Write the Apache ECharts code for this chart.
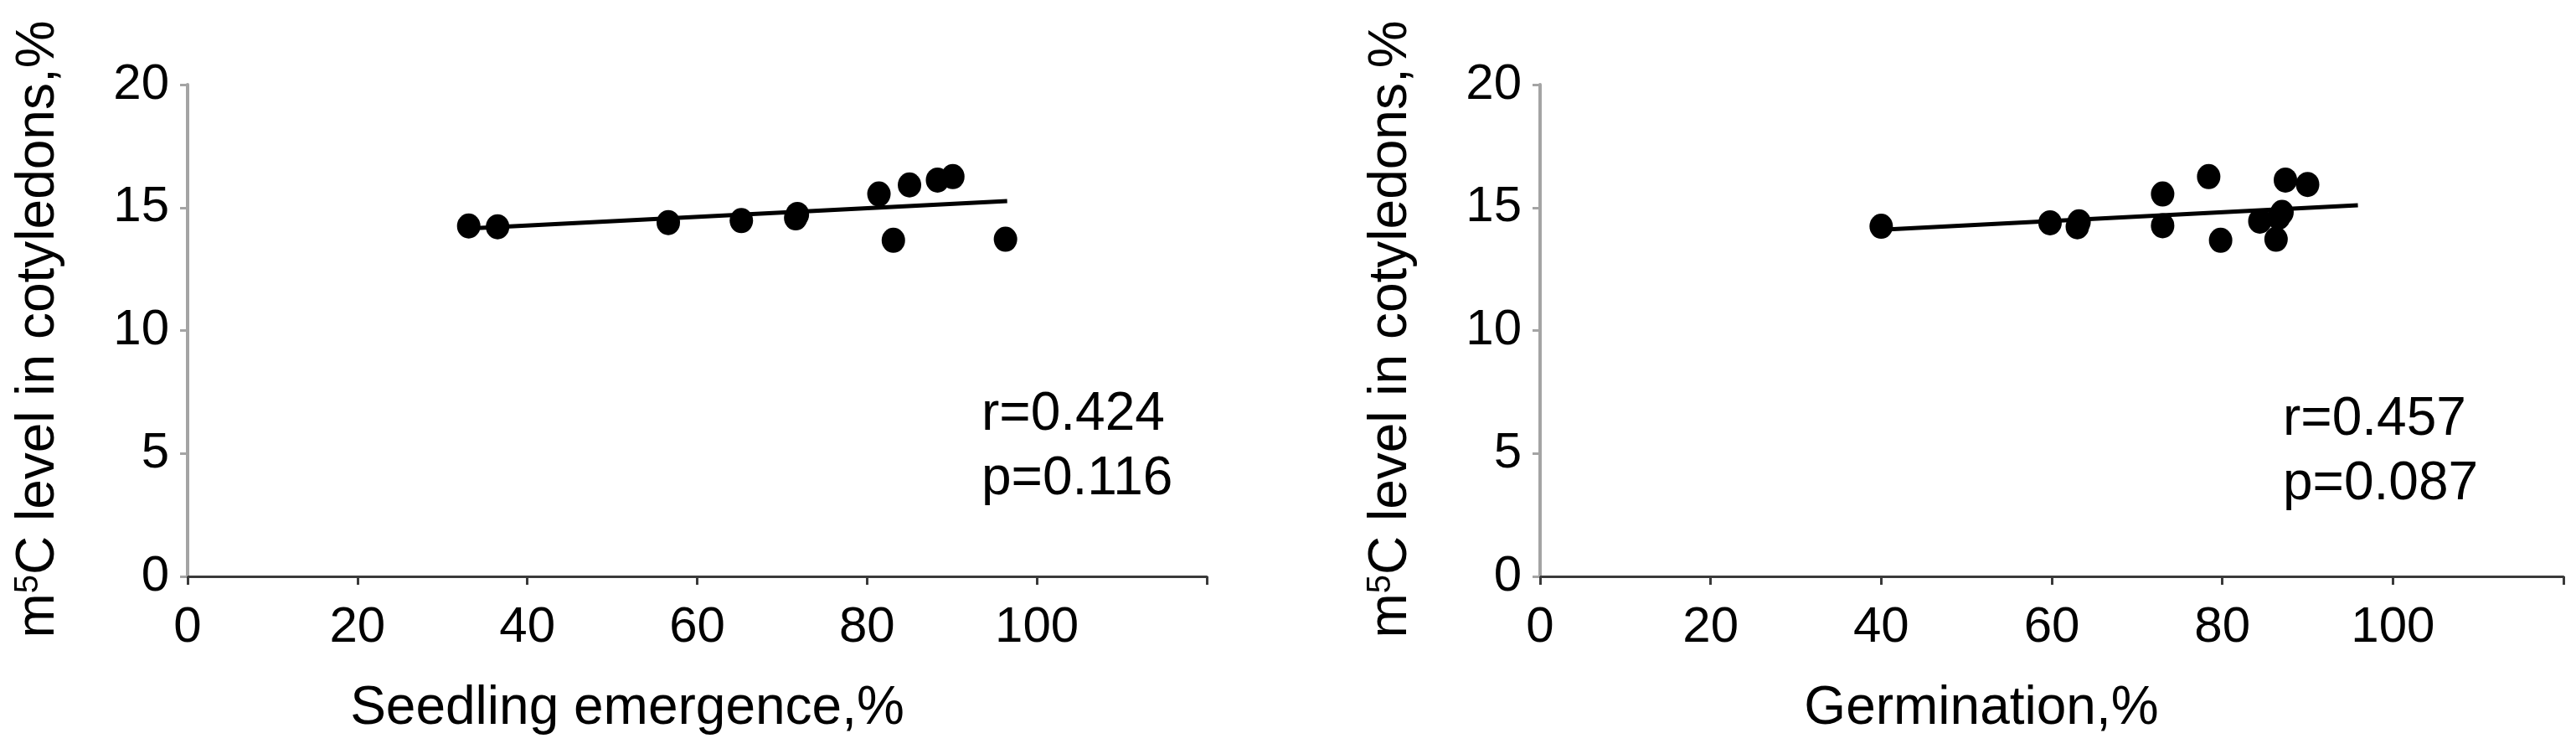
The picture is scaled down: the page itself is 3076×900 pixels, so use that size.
<!DOCTYPE html>
<html>
<head>
<meta charset="utf-8">
<script src="https://cdn.jsdelivr.net/npm/echarts@6/dist/echarts.min.js"></script>
<style>
  html, body { margin: 0; padding: 0; background: #fff; }
  #chart { width: 3076px; height: 900px; }
</style>
</head>
<body>
<div id="chart"></div>
<script>
// ---------- data ----------
const xTickLabels = [0, 20, 40, 60, 80, 100];
const yTickLabels = [0, 5, 10, 15, 20];

// left panel: seedling emergence (%) vs m5C level (%)
const emergence = [33.1, 36.5, 56.6, 65.2, 71.6, 71.8, 81.4, 83.1, 85.0, 88.3, 90.1, 96.3];
const m5cEmergence = [14.25, 14.22, 14.39, 14.47, 14.58, 14.72, 15.55, 13.67, 15.92, 16.12, 16.26, 13.71];
const trendEmergenceX = [33.1, 96.5];
const trendEmergenceY = [14.15, 15.26];

// right panel: germination (%) vs m5C level (%)
const germination = [40.0, 59.8, 63.0, 63.2, 73.0, 73.0, 78.4, 79.8, 84.4, 86.3, 86.6, 87.0, 87.4, 90.0];
const m5cGermination = [14.24, 14.38, 14.22, 14.42, 15.55, 14.26, 16.26, 13.67, 14.45, 13.71, 14.6, 14.80, 16.12, 15.94];
const trendGerminationX = [40.0, 95.9];
const trendGerminationY = [14.10, 15.09];

const xTitles = ['Seedling emergence,%', 'Germination,%'];
const yTitle = 'm5C level in cotyledons,%';
const statsText = ['r=0.424\np=0.116', 'r=0.457\np=0.087'];

// ---------- build ----------
const FONT = '"Liberation Sans", Arial, sans-serif';
const zip = (a, b) => a.map((v, i) => [v, b[i]]);

function xAxisFor(i) {
  return {
    gridIndex: i, type: 'value', min: 0, max: 120, interval: 20,
    axisLine: { show: true, lineStyle: { color: '#3a3a3a', width: 3 } },
    axisTick: { show: true, length: 10, lineStyle: { color: '#3a3a3a', width: 3 } },
    axisLabel: {
      fontSize: 60, fontFamily: FONT, color: '#000', margin: 31,
      formatter: v => xTickLabels.includes(v) ? String(v) : ''
    },
    splitLine: { show: false }
  };
}
function yAxisFor(i) {
  return {
    gridIndex: i, type: 'value', min: 0, max: 20, interval: 5,
    axisLine: { show: true, lineStyle: { color: '#a4a4a4', width: 4 } },
    axisTick: { show: true, length: 9, lineStyle: { color: '#a4a4a4', width: 3 } },
    axisLabel: {
      fontSize: 60, fontFamily: FONT, color: '#000', margin: 22,
      formatter: v => yTickLabels.includes(v) ? String(v) : ''
    },
    splitLine: { show: false }
  };
}
function scatterFor(i, xs, ys) {
  return {
    type: 'scatter', xAxisIndex: i, yAxisIndex: i,
    data: zip(xs, ys), symbol: 'circle', symbolSize: [28, 30],
    itemStyle: { color: '#000', opacity: 1 }, silent: true, z: 3
  };
}
function trendFor(i, xs, ys) {
  return {
    type: 'line', xAxisIndex: i, yAxisIndex: i,
    data: zip(xs, ys), symbol: 'none',
    lineStyle: { color: '#000', width: 5 }, silent: true, z: 4
  };
}
function yTitleText(x) {
  const parts = yTitle.split('5');
  return {
    type: 'text', x: x, y: 393, rotation: Math.PI / 2,
    style: {
      text: '{a|' + parts[0] + '}{s|5}{a|' + parts[1] + '}',
      align: 'center', verticalAlign: 'middle',
      rich: {
        a: { fontSize: 64, fontFamily: FONT, fill: '#000', lineHeight: 64 },
        s: { fontSize: 40, fontFamily: FONT, fill: '#000', lineHeight: 40, verticalAlign: 'top' }
      }
    }
  };
}
function plainText(x, y, text, align, vAlign, lh) {
  return {
    type: 'text', x: x, y: y,
    style: { text: text, fontSize: 64, fontFamily: FONT, fill: '#000',
             align: align, verticalAlign: vAlign, lineHeight: lh || 64 }
  };
}

const option = {
  backgroundColor: '#fff',
  animation: false,
  grid: [
    { left: 224, top: 101, width: 1217, height: 587 },
    { left: 1839, top: 101, width: 1222, height: 587 }
  ],
  xAxis: [xAxisFor(0), xAxisFor(1)],
  yAxis: [yAxisFor(0), yAxisFor(1)],
  series: [
    scatterFor(0, emergence, m5cEmergence),
    trendFor(0, trendEmergenceX, trendEmergenceY),
    scatterFor(1, germination, m5cGermination),
    trendFor(1, trendGerminationX, trendGerminationY)
  ],
  graphic: [
    yTitleText(46),
    yTitleText(1661),
    plainText(749, 846, xTitles[0], 'center', 'middle'),
    plainText(2366, 846, xTitles[1], 'center', 'middle'),
    plainText(1172, 457, statsText[0], 'left', 'top', 77),
    plainText(2726, 463, statsText[1], 'left', 'top', 77)
  ]
};

const chart = echarts.init(document.getElementById('chart'), null, { renderer: 'canvas' });
chart.setOption(option);
</script>
</body>
</html>
